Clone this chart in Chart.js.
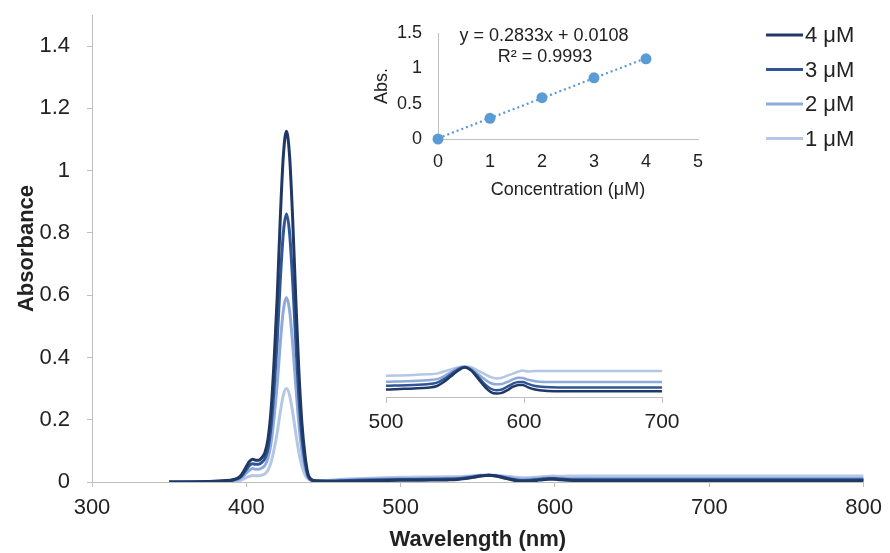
<!DOCTYPE html>
<html>
<head>
<meta charset="utf-8">
<script src="https://cdn.jsdelivr.net/npm/chart.js@4.4.1/dist/chart.umd.min.js"></script>
<style>
  body { margin: 0; background: #fff; }
  #wrap { position: relative; width: 890px; height: 553px; }
  canvas { position: absolute; }
</style>
</head>
<body>
<div id="wrap">
  <canvas id="main" width="890" height="553" style="left:0;top:0"></canvas>
  <canvas id="zoom" width="330" height="92" style="left:360px;top:350px"></canvas>
  <canvas id="calib" width="350" height="195" style="left:370px;top:15px"></canvas>
</div>
<script>
// Spectra (absorbance vs wavelength)
const wavelengths = [350, 370, 385, 392, 396, 398, 400, 402, 404, 406, 408, 410, 412, 414, 416, 418, 420, 422, 424, 426,
  428, 430, 432, 434, 436, 438, 440, 442, 446, 452, 460, 480, 500, 510, 520, 530, 537, 542, 547, 552,
  557, 562, 567, 572, 576, 580, 584, 588, 592, 596, 599, 603, 608, 615, 625, 640, 660, 680, 700, 730, 760, 800];

const abs4 = [0, 0.001, 0.004, 0.008, 0.018, 0.032, 0.050, 0.066, 0.073, 0.070, 0.070, 0.078, 0.094, 0.137, 0.230, 0.390, 0.594, 0.848, 1.049, 1.127,
  1.049, 0.848, 0.594, 0.361, 0.190, 0.087, 0.025, 0.008, 0.003, 0.002, 0.002, 0.004, 0.0054, 0.0058, 0.0062, 0.0068, 0.008, 0.011, 0.015, 0.019,
  0.0215, 0.019, 0.013, 0.007, 0.0035, 0.0025, 0.003, 0.005, 0.0075, 0.0088, 0.0088, 0.007, 0.0055, 0.0045, 0.0042, 0.0042, 0.0042, 0.0042, 0.0042, 0.0042, 0.0042, 0.0042];

const abs3 = [0, 0.001, 0.003, 0.007, 0.015, 0.026, 0.040, 0.053, 0.059, 0.057, 0.057, 0.063, 0.075, 0.106, 0.178, 0.300, 0.454, 0.648, 0.801, 0.861,
  0.801, 0.648, 0.454, 0.276, 0.145, 0.066, 0.020, 0.007, 0.003, 0.003, 0.004, 0.0065, 0.0081, 0.0084, 0.0088, 0.0093, 0.0105, 0.013, 0.0165, 0.020,
  0.0218, 0.0195, 0.0145, 0.009, 0.006, 0.005, 0.0055, 0.0075, 0.0098, 0.011, 0.011, 0.0095, 0.008, 0.0072, 0.0069, 0.0069, 0.0069, 0.0069, 0.0069, 0.0069, 0.0069, 0.0069];

const abs2 = [0, 0.001, 0.002, 0.005, 0.011, 0.019, 0.029, 0.038, 0.043, 0.041, 0.041, 0.045, 0.053, 0.076, 0.124, 0.208, 0.313, 0.446, 0.552, 0.593,
  0.552, 0.446, 0.313, 0.190, 0.100, 0.046, 0.015, 0.006, 0.004, 0.004, 0.006, 0.009, 0.011, 0.0113, 0.0117, 0.0122, 0.013, 0.015, 0.018, 0.021,
  0.022, 0.0205, 0.0165, 0.0125, 0.010, 0.0092, 0.0095, 0.011, 0.0128, 0.014, 0.0138, 0.0125, 0.0115, 0.011, 0.011, 0.011, 0.011, 0.011, 0.011, 0.011, 0.011, 0.011];

const abs1 = [0, 0, 0.001, 0.003, 0.005, 0.009, 0.014, 0.018, 0.021, 0.020, 0.020, 0.022, 0.026, 0.038, 0.063, 0.105, 0.158, 0.225, 0.279, 0.300,
  0.279, 0.225, 0.158, 0.096, 0.051, 0.023, 0.009, 0.005, 0.004, 0.005, 0.008, 0.012, 0.0154, 0.0157, 0.016, 0.0165, 0.017, 0.0185, 0.020, 0.0215,
  0.0222, 0.0215, 0.019, 0.0165, 0.0145, 0.0135, 0.014, 0.0155, 0.017, 0.0185, 0.0192, 0.0185, 0.019, 0.019, 0.019, 0.019, 0.019, 0.019, 0.019, 0.019, 0.019, 0.019];

const seriesLabels = ['4 μM', '3 μM', '2 μM', '1 μM'];
const seriesColors = ['#1f3864', '#2f5597', '#8eaadb', '#b4c7e7'];

// Calibration inset
const concX = [0, 1, 2, 3, 4];
const concY = [0, 0.293, 0.585, 0.866, 1.135];
const trendX = [0, 4];
const trendY = [0.011, 1.144];
const equationText = ['y = 0.2833x + 0.0108', 'R² = 0.9993'];

const FONT = '"Liberation Sans", Arial, sans-serif';
const TXT = '#222';
const AXIS = '#bfbfbf';

function points(xs, ys) {
  return xs.map((x, i) => ({ x: x, y: ys[i] }));
}

function fmt(v) {
  return String(+v.toFixed(2));
}

const allSeries = [abs4, abs3, abs2, abs1];

function spectraDatasets(width) {
  return allSeries.map((ys, i) => ({
    label: seriesLabels[i],
    data: points(wavelengths, ys),
    borderColor: seriesColors[i],
    backgroundColor: seriesColors[i],
    borderWidth: width,
    pointRadius: 0,
    cubicInterpolationMode: 'monotone',
    fill: false
  }));
}

// Legend drawn at the right
const legendPlugin = {
  id: 'sideLegend',
  afterDraw(chart) {
    const ctx = chart.ctx;
    ctx.save();
    ctx.font = '22px ' + FONT;
    ctx.textBaseline = 'middle';
    ctx.textAlign = 'left';
    seriesLabels.forEach((lab, i) => {
      const y = 35 + i * 34.5;
      ctx.strokeStyle = seriesColors[i];
      ctx.lineWidth = 3;
      ctx.beginPath();
      ctx.moveTo(766, y);
      ctx.lineTo(803, y);
      ctx.stroke();
      ctx.fillStyle = TXT;
      ctx.fillText(lab, 805, y + 1);
    });
    ctx.restore();
  }
};

new Chart(document.getElementById('main'), {
  type: 'line',
  data: { datasets: spectraDatasets(3) },
  options: {
    responsive: false,
    animation: false,
    layout: { padding: { top: 15, right: 25, left: 0, bottom: 0 } },
    plugins: { legend: { display: false }, tooltip: { enabled: false } },
    scales: {
      x: {
        type: 'linear', min: 300, max: 800,
        ticks: { stepSize: 100, padding: 8, color: TXT, font: { family: FONT, size: 22 }, callback: v => v },
        grid: { drawOnChartArea: false, drawTicks: true, tickLength: 5, color: AXIS },
        border: { color: AXIS, width: 1 },
        title: { display: true, text: 'Wavelength (nm)', color: TXT, font: { family: FONT, size: 22, weight: 'bold' }, padding: { top: 0, bottom: 0 } },
        afterFit: s => { s.height = 71; }
      },
      y: {
        type: 'linear', min: 0, max: 1.5,
        ticks: { stepSize: 0.2, includeBounds: false, padding: 17, color: TXT, font: { family: FONT, size: 22 }, callback: v => fmt(v) },
        grid: { drawOnChartArea: false, drawTicks: true, tickLength: 5, color: AXIS },
        border: { color: AXIS, width: 1 },
        title: { display: true, text: 'Absorbance', color: TXT, font: { family: FONT, size: 22, weight: 'bold' }, padding: { top: 14, bottom: 14 } },
        afterFit: s => { s.width = 92; s.paddingTop = 0; s.paddingBottom = 0; }
      }
    }
  },
  plugins: [legendPlugin]
});

// Zoomed view of the 500-700 nm region
new Chart(document.getElementById('zoom'), {
  type: 'line',
  data: { datasets: spectraDatasets(2.5) },
  options: {
    responsive: false,
    animation: false,
    layout: { padding: { top: 3, right: 28, left: 26, bottom: 0 } },
    plugins: { legend: { display: false }, tooltip: { enabled: false } },
    scales: {
      x: {
        type: 'linear', min: 500, max: 700,
        ticks: { stepSize: 100, padding: 7, color: TXT, font: { family: FONT, size: 21 }, callback: v => v },
        grid: { drawOnChartArea: false, drawTicks: true, tickLength: 6, color: AXIS },
        border: { color: AXIS, width: 1 },
        afterFit: s => { s.height = 45; }
      },
      y: { display: false, min: 0, max: 0.032 }
    }
  }
});

// Calibration inset
const equationPlugin = {
  id: 'equation',
  afterDraw(chart) {
    const ctx = chart.ctx;
    ctx.save();
    ctx.font = '18px ' + FONT;
    ctx.fillStyle = TXT;
    ctx.textAlign = 'center';
    ctx.textBaseline = 'middle';
    ctx.fillText(equationText[0], 174, 21);
    ctx.fillText(equationText[1], 175, 42);
    ctx.restore();
  }
};

new Chart(document.getElementById('calib'), {
  type: 'scatter',
  data: {
    datasets: [
      {
        data: points(concX, concY),
        backgroundColor: '#5b9bd5',
        borderColor: '#5b9bd5',
        pointRadius: 5.5,
        pointBorderWidth: 0,
        showLine: false,
        clip: false
      },
      {
        type: 'line',
        data: points(trendX, trendY),
        borderColor: '#5b9bd5',
        borderWidth: 2.2,
        borderDash: [2, 3],
        pointRadius: 0,
        fill: false
      }
    ]
  },
  options: {
    responsive: false,
    animation: false,
    layout: { padding: { top: 18, right: 22, left: 0, bottom: 0 } },
    plugins: { legend: { display: false }, tooltip: { enabled: false } },
    scales: {
      x: {
        type: 'linear', min: 0, max: 5,
        ticks: { stepSize: 1, padding: 12, color: TXT, font: { family: FONT, size: 18 }, callback: v => v },
        grid: { display: false, drawTicks: false },
        border: { color: AXIS, width: 1 },
        title: { display: true, text: 'Concentration (μM)', color: TXT, font: { family: FONT, size: 18 }, padding: { top: 0, bottom: 9 } },
        afterFit: s => { s.height = 71; }
      },
      y: {
        type: 'linear', min: 0, max: 1.5,
        ticks: { stepSize: 0.5, padding: 16, color: TXT, font: { family: FONT, size: 18 }, callback: v => fmt(v) },
        grid: { display: false, drawTicks: false },
        border: { color: AXIS, width: 1 },
        title: { display: true, text: 'Abs.', color: TXT, font: { family: FONT, size: 18 }, padding: { top: 1, bottom: 1 } },
        afterFit: s => { s.width = 68; s.paddingTop = 0; s.paddingBottom = 0; }
      }
    }
  },
  plugins: [equationPlugin]
});
</script>
</body>
</html>
